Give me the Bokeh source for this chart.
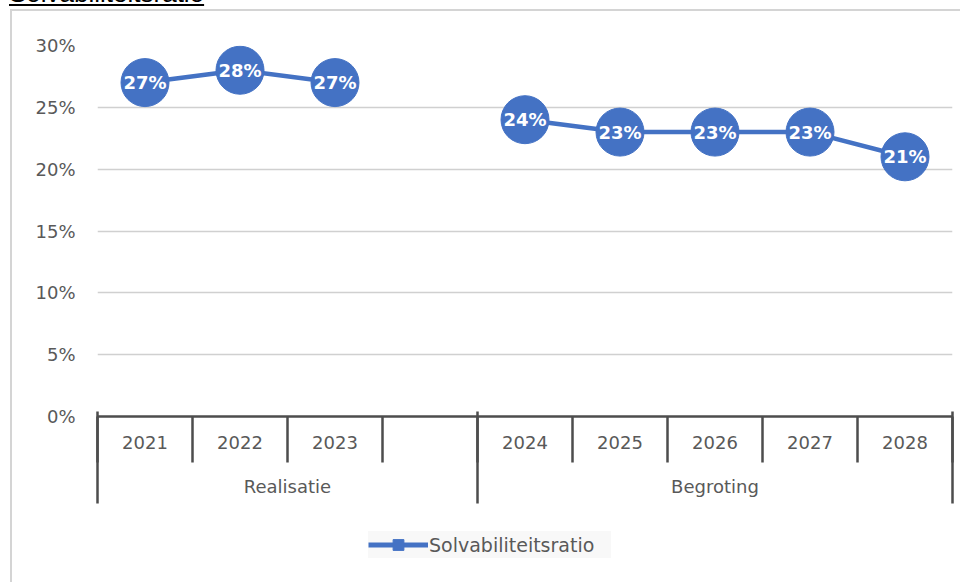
import math
from bokeh.plotting import figure
from bokeh.models import (Range1d, FixedTicker, LinearAxis, NumeralTickFormatter,
                          Legend, LegendItem, ColumnDataSource, Grid, Div)
from bokeh.layouts import column
from bokeh.core.properties import value
from bokeh.embed import file_html
from bokeh.resources import INLINE

# ---- data ----
title_text = "Solvabiliteitsratio"
series_name = "Solvabiliteitsratio"
categories = ["2021", "2022", "2023", "", "2024", "2025", "2026", "2027", "2028"]
groups = ["Realisatie", "Begroting"]
group_sizes = [4, 5]
ratio = [0.27, 0.28, 0.27, float("nan"), 0.24, 0.23, 0.23, 0.23, 0.21]
y_ticks = [0.0, 0.05, 0.10, 0.15, 0.20, 0.25, 0.30]

BLUE = "#4472C4"
AXIS = "#4d4d4d"
TXT = "#595959"
FONT = "DejaVu Sans"
BORDER = "2px solid #d4d4d4"

n = len(categories)
xc = [i + 0.5 for i in range(n)]
bounds = list(range(n + 1))
group_bounds = [0]
for s in group_sizes:
    group_bounds.append(group_bounds[-1] + s)
group_centers = [(group_bounds[i] + group_bounds[i + 1]) / 2 for i in range(len(groups))]
labels = ["" if math.isnan(v) else f"{round(v * 100)}%" for v in ratio]

src = ColumnDataSource(dict(x=xc, y=ratio, label=labels))

p = figure(width=950, height=501, x_range=Range1d(0, n), y_range=Range1d(0, max(y_ticks)),
           x_axis_type=None, y_axis_type=None, output_backend="svg", toolbar_location=None,
           min_border_left=85, min_border_right=10, min_border_top=34, min_border_bottom=96,
           margin=0,
           styles={"margin-top": "1px", "margin-left": "10px",
                   "border-left": BORDER, "border-top": BORDER})
p.outline_line_color = None
p.background_fill_color = "white"
p.border_fill_color = "white"

# y axis
yticker = FixedTicker(ticks=y_ticks)
yaxis = LinearAxis(ticker=yticker, formatter=NumeralTickFormatter(format="0%"),
                   axis_line_color=None, major_tick_line_color=None, minor_tick_line_color=None,
                   major_tick_out=0, major_tick_in=0, minor_tick_out=0, minor_tick_in=0,
                   major_label_standoff=22,
                   major_label_text_font=FONT, major_label_text_font_size="18px",
                   major_label_text_color=TXT)
p.add_layout(yaxis, "left")
p.add_layout(Grid(dimension=1, ticker=yticker, grid_line_color="#d0d0d0", grid_line_width=1.5))

# x axis: categories (separators drawn as minor ticks)
xaxis1 = LinearAxis(ticker=FixedTicker(ticks=xc, minor_ticks=bounds),
                    major_label_overrides={x: c for x, c in zip(xc, categories)},
                    axis_line_color=AXIS, axis_line_width=2.5,
                    major_tick_out=0, major_tick_in=0, major_tick_line_color=None,
                    minor_tick_in=0, minor_tick_out=46, minor_tick_line_color=AXIS,
                    minor_tick_line_width=2.5, major_label_standoff=-27,
                    major_label_text_font=FONT, major_label_text_font_size="18px",
                    major_label_text_color=TXT)
p.add_layout(xaxis1, "below")

# x axis: groups
xaxis2 = LinearAxis(ticker=FixedTicker(ticks=group_centers, minor_ticks=group_bounds),
                    major_label_overrides={x: g for x, g in zip(group_centers, groups)},
                    axis_line_color=None,
                    major_tick_out=0, major_tick_in=0, major_tick_line_color=None,
                    minor_tick_in=40, minor_tick_out=52, minor_tick_line_color=AXIS,
                    minor_tick_line_width=2.5, major_label_standoff=-28,
                    major_label_text_font=FONT, major_label_text_font_size="18px",
                    major_label_text_color=TXT)
p.add_layout(xaxis2, "below")

# series
p.line("x", "y", source=src, line_width=4.5, line_color=BLUE)
p.scatter("x", "y", source=src, size=48, fill_color=BLUE, line_color=BLUE)
p.text("x", "y", text="label", source=src, text_color="white", text_font=value(FONT),
       text_font_style="bold", text_font_size="18px", text_align="center",
       text_baseline="middle")

# legend strip below the chart
p2 = figure(width=950, height=72, x_range=Range1d(0, 1), y_range=Range1d(0, 1),
            x_axis_type=None, y_axis_type=None, output_backend="svg", toolbar_location=None,
            min_border=0, margin=0,
            styles={"margin-left": "10px", "border-left": BORDER})
p2.outline_line_color = None
p2.xgrid.visible = False
p2.ygrid.visible = False
p2.border_fill_color = "white"
lg_line = p2.line(x=[float("nan")], y=[float("nan")], line_width=5, line_color=BLUE)
lg_sq = p2.scatter(x=[float("nan")], y=[float("nan")], marker="square",
                   fill_color=BLUE, line_color=BLUE)
legend = Legend(items=[LegendItem(label=series_name, renderers=[lg_line, lg_sq])],
                location=(271, 24), orientation="horizontal", padding=8, margin=0,
                glyph_width=60, glyph_height=27, label_standoff=1, label_width=182,
                label_text_font=FONT, label_text_font_size="19px", label_text_color=TXT,
                background_fill_color="#f8f8f8", background_fill_alpha=1.0,
                border_line_color=None)
p2.add_layout(legend)

title = Div(text=f"<u>{title_text}</u>", width=300, height=29, margin=0,
            styles={"font-family": "Liberation Sans", "font-size": "26px",
                    "color": "black", "line-height": "29px", "margin-left": "9px"})

root = column(title, p, p2, spacing=0, margin=0, styles={"margin-top": "-21px"})

open("out.html", "w").write(file_html(root, INLINE))
